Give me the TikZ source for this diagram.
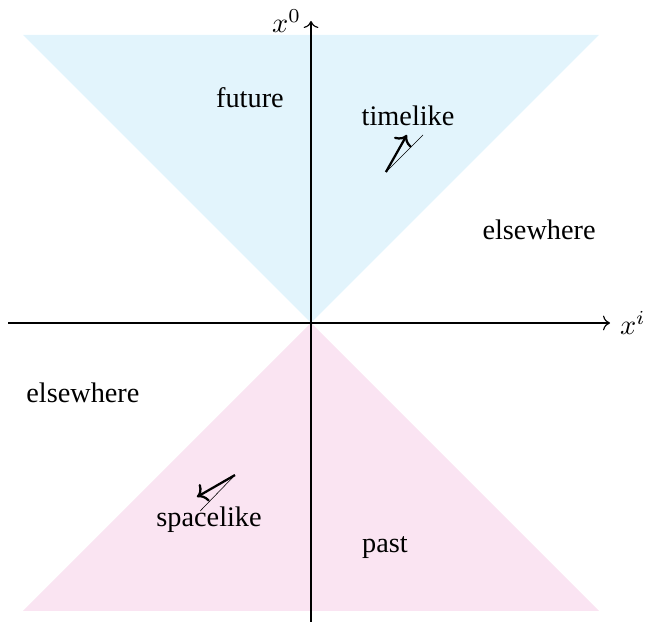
\documentclass[tikz,border=0pt]{standalone}
\usepackage{fontspec}
\setmainfont{Liberation Serif}
\usetikzlibrary{arrows.meta}
\definecolor{futurecol}{RGB}{226,244,252}
\definecolor{pastcol}{RGB}{250,228,242}
\begin{document}
\begin{tikzpicture}[x=101.8pt,y=101.8pt]
\useasboundingbox (-1.0799,-1.0486) rectangle (1.1771,1.1215);
% light cones
\fill[futurecol] (-1,1) -- (1,1) -- (0,0) -- cycle;
\fill[pastcol] (-1,-1) -- (1,-1) -- (0,0) -- cycle;
% axes
\coordinate (xl) at (-1.0521,0);
\coordinate (xr) at (1.0382,0);
\coordinate (tb) at (0,-1.0382);
\coordinate (tt) at (0,1.0486);
\draw[->] (xl) -- (xr) node[right] {$x^i$};
\draw[->] (tb) -- (tt) node[left] {$x^0$};
% regions
\node (future) at (-0.212,0.781) {future};
\node (past) at (0.257,-0.781) {past};
\node (elseR) at (0.792,0.323) {elsewhere};
\node (elseL) at (-0.792,-0.243) {elsewhere};
\node (tlabel) at (0.337,0.719) {timelike};
\node (slabel) at (-0.354,-0.684) {spacelike};
% vectors
\coordinate (ta) at (0.260,0.524);
\coordinate (tb2) at (0.333,0.653);
\coordinate (tc) at (0.389,0.653);
\draw[thick,->] (ta) -- (tb2);
\draw[very thin] (ta) -- (tc);
\coordinate (sa) at (-0.264,-0.528);
\coordinate (sb) at (-0.396,-0.604);
\coordinate (sc) at (-0.385,-0.653);
\draw[thick,->] (sa) -- (sb);
\draw[very thin] (sa) -- (sc);
\end{tikzpicture}
\end{document}
